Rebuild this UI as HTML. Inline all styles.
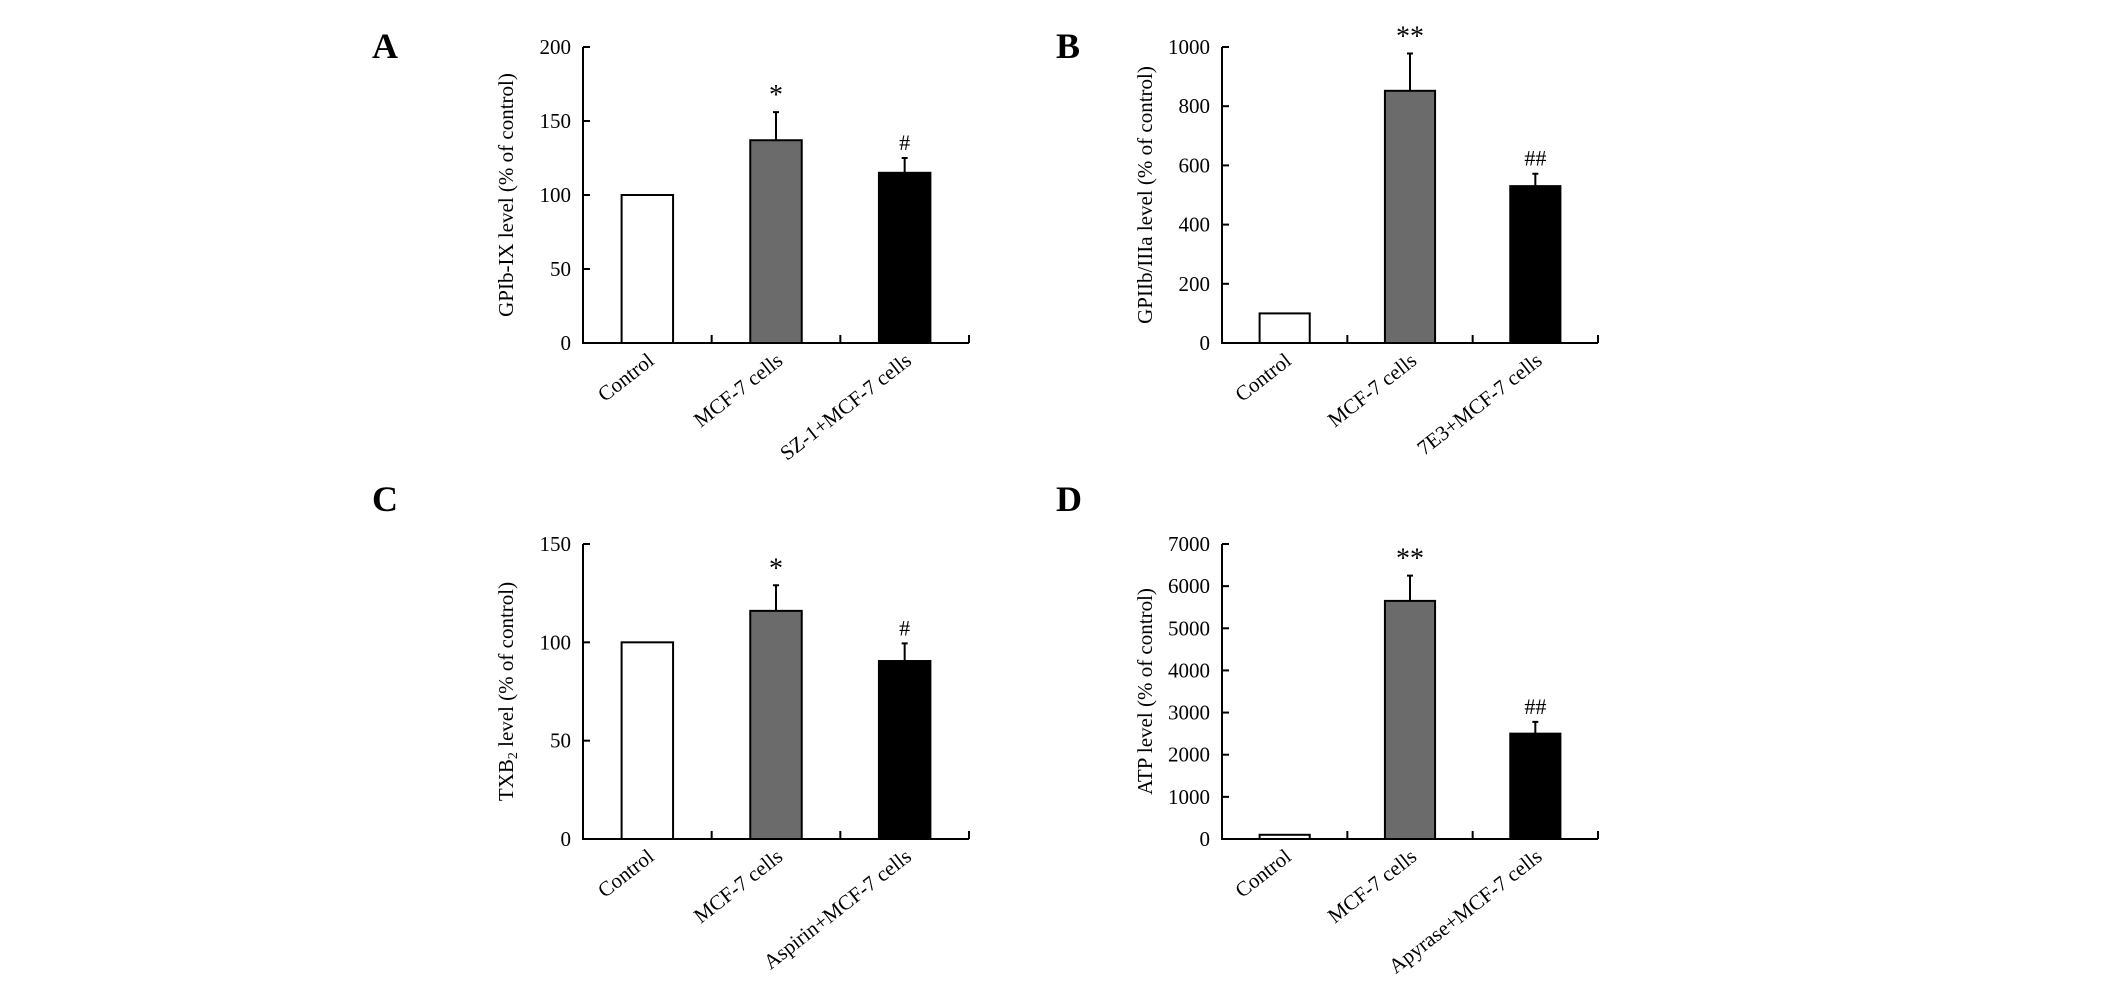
<!DOCTYPE html>
<html><head><meta charset="utf-8"><style>
html,body{margin:0;padding:0;background:#fff;}
svg{display:block;font-family:"Liberation Serif",serif;}
</style></head><body>
<svg id="fig" width="2126" height="986" viewBox="0 0 2126 986"></svg>
<script>
const categoriesA = ["Control","MCF-7 cells","SZ-1+MCF-7 cells"];
const valuesA = [100,137,115];
const errorsA = [0,19,10];
const marksA = ["","*","#"];
const ticksA = [0,50,100,150,200];

const categoriesB = ["Control","MCF-7 cells","7E3+MCF-7 cells"];
const valuesB = [100,852,530];
const errorsB = [0,126,42];
const marksB = ["","**","##"];
const ticksB = [0,200,400,600,800,1000];

const categoriesC = ["Control","MCF-7 cells","Aspirin+MCF-7 cells"];
const valuesC = [100,116,90.5];
const errorsC = [0,13,9];
const marksC = ["","*","#"];
const ticksC = [0,50,100,150];

const categoriesD = ["Control","MCF-7 cells","Apyrase+MCF-7 cells"];
const valuesD = [100,5650,2500];
const errorsD = [0,600,280];
const marksD = ["","**","##"];
const ticksD = [0,1000,2000,3000,4000,5000,6000,7000];

const NS="http://www.w3.org/2000/svg";
const svg=document.getElementById('fig');
function mk(tag,attrs,parent){const e=document.createElementNS(NS,tag);for(const k in attrs)e.setAttribute(k,attrs[k]);(parent||svg).appendChild(e);return e;}
const fills=["#ffffff","#6b6b6b","#000000"];

function panel(id,letter,lx,ly,x0,x1,yTop,yBot,cats,vals,errs,marks,ticks,ytitle,sub){
  const g=mk('g',{});
  
  
  const L=mk('text',{x:lx,y:ly,'font-size':36,'font-weight':'bold'},g);
  L.textContent=letter;
  
  
  const yMax=ticks[ticks.length-1];
  const ys=v=>yBot-(v/yMax)*(yBot-yTop);
  const cw=(x1-x0)/cats.length;
  const bw=cw*0.4;
  cats.forEach((c,i)=>{
    const cx=x0+cw*(i+0.5);
    const r=mk('rect',{x:cx-bw/2,y:ys(vals[i]),width:bw,height:yBot-ys(vals[i]),fill:fills[i],stroke:'#000','stroke-width':2},g);
    
    
    if(errs[i]>0){
      const et=ys(vals[i]+errs[i]);
      const el=mk('path',{d:`M${cx} ${ys(vals[i])}V${et}M${cx-3} ${et}H${cx+3}`,stroke:'#000','stroke-width':2,fill:'none'},g);
      
      
    }
    if(marks[i]){
      const m=mk('text',{x:cx,y:ys(vals[i]+errs[i])-8,'text-anchor':'middle','font-size':marks[i][0]=='*'?28:22},g);
      m.textContent=marks[i];
      
      
    }
    const tx=cx+8, ty=yBot+20;
    const t=mk('text',{x:tx,y:ty,'text-anchor':'end','font-size':21,transform:`rotate(-38 ${tx} ${ty})`},g);
    t.textContent=c;
    
    
  });
  const ax=mk('path',{d:`M${x0} ${yTop}V${yBot}H${x1}`,stroke:'#000','stroke-width':2,fill:'none'},g);
  
  
  for(let i=1;i<=cats.length;i++){
    mk('line',{x1:x0+cw*i,x2:x0+cw*i,y1:yBot,y2:yBot-8,stroke:'#000','stroke-width':2},g);
  }
  ticks.forEach(v=>{
    mk('line',{x1:x0,x2:x0+7,y1:ys(v),y2:ys(v),stroke:'#000','stroke-width':2},g);
    const t=mk('text',{x:x0-12,y:ys(v)+7,'text-anchor':'end','font-size':21},g);
    t.textContent=v;
    
    
  });
  const tx=x0-70, ty=(yTop+yBot)/2;
  const yt=mk('text',{x:tx,y:ty,'text-anchor':'middle','font-size':21,transform:`rotate(-90 ${tx} ${ty})`},g);
  if(sub){
    yt.appendChild(document.createTextNode('TXB'));
    const s=mk('tspan',{'font-size':14,dy:4},yt);s.textContent='2';
    const s2=mk('tspan',{dy:-4},yt);s2.textContent=' level (% of control)';
  } else yt.textContent=ytitle;
  
  
}
panel('a','A',372,58,583,969,47,343,categoriesA,valuesA,errorsA,marksA,ticksA,'GPIb-IX level (% of control)');
panel('b','B',1056,58,1222,1598,47,343,categoriesB,valuesB,errorsB,marksB,ticksB,'GPIIb/IIIa level (% of control)');
panel('c','C',372,511,583,969,544,839,categoriesC,valuesC,errorsC,marksC,ticksC,'',true);
panel('d','D',1056,511,1222,1598,544,839,categoriesD,valuesD,errorsD,marksD,ticksD,'ATP level (% of control)');
</script>
</body></html>
